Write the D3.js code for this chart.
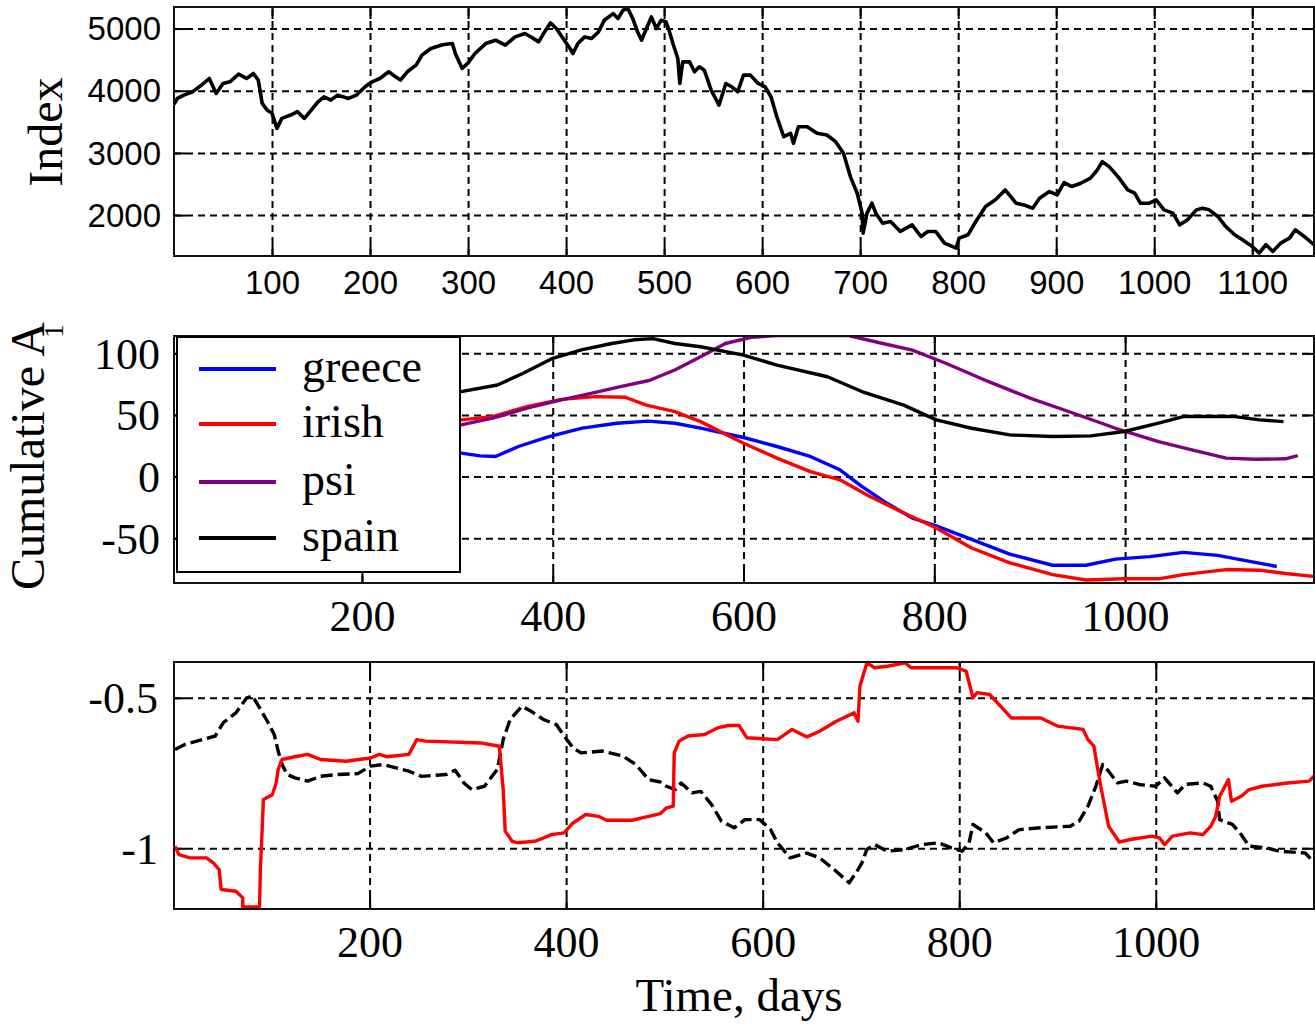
<!DOCTYPE html>
<html><head><meta charset="utf-8">
<script src="https://cdn.jsdelivr.net/npm/d3@7/dist/d3.min.js"></script>
<style>body{margin:0;background:#fff}</style>
</head><body>
<svg id="c" width="1315" height="1024"></svg>
<script>
// ---------- Top panel: index ----------
const indexDays = [0,3.5,10,19,28,36,43,50,57,66,74,81,86,90,95,100,105,110,119,126,133,140,147,153,160,167,178,186,195,202,210,219,226,231,238,247,253,262,274,284,287,294,301,307,318,328,338,348,358,365,372,377,384,390,397,404,407,412,419,426,433,439,448,453,458,463,468,473,477,482,487,492,497,502,505,509,514,516,519,526,531,536,541,548,556,563,569,575,581,588,596,603,609,615,622,629,632,637,646,656,666,675,683,690,697,702,703,707,712,716,723,731,741,753,762,769,777,786,798,801,810,818,828,838,848,859,867,876,883,893,901,908,916,925,935,942,947,954,963,973,980,986,995,1002,1010,1019,1026,1034,1043,1049,1056,1065,1073,1082,1090,1100,1107,1114,1121,1129,1138,1144,1153,1163];
const indexValues = [3780,3876,3930,3984,4090,4197,3957,4118,4144,4267,4197,4278,4171,3796,3689,3636,3395,3556,3609,3663,3556,3689,3823,3903,3850,3930,3876,3930,4064,4144,4197,4305,4224,4171,4305,4412,4572,4679,4740,4759,4599,4358,4465,4599,4759,4813,4733,4866,4920,4856,4786,4920,5091,5000,4840,4679,4599,4759,4866,4840,4946,5134,5241,5161,5294,5321,5161,4946,4813,5000,5187,5000,5134,5107,4973,4759,4519,4117,4465,4465,4305,4385,4331,4010,3770,4117,4064,3984,4251,4251,4117,4064,3903,3582,3261,3315,3154,3422,3422,3315,3288,3181,2994,2619,2352,2031,1710,2031,2191,2031,1870,1897,1737,1843,1656,1737,1737,1549,1469,1630,1683,1897,2138,2245,2405,2191,2164,2111,2271,2378,2325,2523,2459,2512,2593,2726,2860,2780,2619,2405,2352,2191,2191,2245,2084,2031,1843,1924,2084,2111,2084,1977,1816,1683,1603,1496,1389,1523,1416,1549,1630,1763,1656,1523];
const topXTicks = [100,200,300,400,500,600,700,800,900,1000,1100];
const topYTicks = [2000,3000,4000,5000];

// ---------- Middle panel: cumulative A1 ----------
const seriesNames = ["greece","irish","psi","spain"];
const greeceDays = [250,304,324,340,364,396,431,467,500,528,555,600,635,670,701,724,750,777,802,839,879,924,959,990,1026,1061,1097,1132,1159];
const greeceVals = [20,19,16.8,16.3,24.4,32.5,39.3,43.3,45,43.3,39.3,31.7,24.4,16.3,5.5,-8,-21.5,-33.7,-40,-51,-63,-72,-72,-67,-65,-61.5,-64,-69,-73];
const irishDays = [250,304,337,373,409,445,476,498,528,555,600,635,670,701,732,768,802,839,879,924,959,999,1035,1061,1106,1141,1168,1197];
const irishVals = [44,46,48.7,56.8,62.7,64.9,64.4,58,52.7,44.6,27,15,4,-2.6,-16,-29.6,-41.8,-58,-70,-79.6,-84,-83,-83,-79.6,-75.5,-76,-78.7,-81];
const psiDays = [250,304,337,373,409,440,471,501,528,555,581,608,635,710,746,777,812,857,901,946,990,1035,1070,1106,1137,1168,1181];
const psiVals = [38,42,47.4,55.5,62.2,67.6,73,78,86.5,97.3,108,113,114.5,114.5,108,102.7,92,77,63.5,51.4,39.2,28.4,21.7,15,14,14.4,17];
const spainDays = [250,304,342,369,400,431,462,485,505,528,555,600,635,688,724,768,802,839,879,924,964,999,1035,1061,1115,1141,1166];
const spainVals = [62,69,74.3,83.8,96,103,108,111,112,108,105.4,98.6,90.5,81,69,58,46,39.2,33.8,32.5,33,36.6,43.3,48.7,48.7,46,44.6];
const midXTicks = [200,400,600,800,1000];
const midYTicks = [-50,0,50,100];

// ---------- Bottom panel ----------
const redDays = [2,6,17,34,41,47,49,64,71,71,88,89,92,101,105,107,111,124,137,150,176,201,210,218,240,248,257,313,332,336,338,345,351,368,377,385,398,407,420,433,441,467,484,496,502,509,510,515,524,541,554,565,576,584,615,630,645,658,675,693,697,699,706,714,727,745,751,797,807,814,818,831,853,883,900,926,931,937,944,952,963,974,996,1004,1009,1017,1035,1048,1056,1061,1065,1074,1077,1087,1095,1108,1134,1156,1161];
const redVals = [-0.993,-1.021,-1.032,-1.032,-1.049,-1.071,-1.137,-1.143,-1.165,-1.195,-1.195,-1.065,-0.838,-0.822,-0.783,-0.738,-0.705,-0.696,-0.688,-0.705,-0.711,-0.7,-0.688,-0.696,-0.688,-0.639,-0.644,-0.65,-0.661,-0.805,-0.943,-0.977,-0.982,-0.977,-0.966,-0.955,-0.949,-0.916,-0.888,-0.894,-0.907,-0.907,-0.894,-0.885,-0.866,-0.86,-0.683,-0.644,-0.627,-0.622,-0.6,-0.592,-0.592,-0.633,-0.639,-0.605,-0.63,-0.611,-0.578,-0.55,-0.578,-0.461,-0.384,-0.4,-0.395,-0.384,-0.4,-0.4,-0.411,-0.5,-0.483,-0.489,-0.567,-0.567,-0.594,-0.605,-0.639,-0.661,-0.794,-0.927,-0.98,-0.971,-0.96,-0.966,-0.988,-0.96,-0.949,-0.955,-0.927,-0.894,-0.827,-0.772,-0.844,-0.827,-0.805,-0.794,-0.783,-0.777,-0.761];
const blackDays = [2,12,30,43,51,64,75,81,88,96,103,107,111,116,124,137,150,167,188,201,214,227,240,253,278,287,296,304,317,330,336,343,355,364,377,390,398,407,415,437,458,471,484,496,502,511,517,528,537,548,558,571,582,597,608,615,628,645,658,675,688,697,701,706,714,727,745,762,779,792,803,810,814,827,835,848,861,883,913,922,931,939,946,952,961,970,983,1000,1009,1022,1030,1048,1056,1063,1065,1078,1087,1095,1113,1126,1139,1152,1160];
const blackVals = [-0.672,-0.655,-0.639,-0.627,-0.583,-0.55,-0.5,-0.494,-0.533,-0.578,-0.622,-0.677,-0.722,-0.755,-0.766,-0.777,-0.761,-0.755,-0.752,-0.727,-0.722,-0.733,-0.744,-0.761,-0.755,-0.741,-0.783,-0.805,-0.794,-0.738,-0.639,-0.572,-0.528,-0.544,-0.572,-0.589,-0.627,-0.666,-0.683,-0.677,-0.694,-0.722,-0.772,-0.78,-0.794,-0.805,-0.783,-0.816,-0.811,-0.855,-0.91,-0.932,-0.905,-0.905,-0.938,-0.982,-1.032,-1.016,-1.032,-1.077,-1.115,-1.071,-1.049,-1.004,-0.988,-1.01,-1.004,-0.988,-0.982,-0.999,-1.01,-0.982,-0.921,-0.949,-0.982,-0.966,-0.938,-0.932,-0.927,-0.91,-0.86,-0.794,-0.722,-0.744,-0.783,-0.777,-0.788,-0.794,-0.766,-0.816,-0.788,-0.783,-0.794,-0.844,-0.905,-0.921,-0.955,-0.993,-0.999,-1.01,-1.013,-1.016,-1.043];
const botXTicks = [200,400,600,800,1000];
const botYTicks = [-1,-0.5];

const SERIF = "'Liberation Serif','Times New Roman',serif";
const SANS = "'Liberation Sans',Arial,sans-serif";
const svg = d3.select('#c');
const defs = svg.append('defs');

function panel(o) {
  const x = d3.scaleLinear().domain(o.xd).range([o.x0, o.x1]);
  const y = d3.scaleLinear().domain(o.yd).range([o.y1, o.y0]);
  const g = svg.append('g');
  const W = o.x1 - o.x0, H = o.y1 - o.y0;
  const dash = '7,5';
  // grid
  const gx = g.append('g').attr('transform', `translate(0,${o.y1})`)
    .call(d3.axisBottom(x).tickValues(o.xt).tickSize(-H).tickFormat(''));
  const gy = g.append('g').attr('transform', `translate(${o.x0},0)`)
    .call(d3.axisLeft(y).tickValues(o.yt).tickSize(-W).tickFormat(''));
  [gx, gy].forEach(a => {
    a.select('.domain').remove();
    a.selectAll('line').attr('stroke', '#000').attr('stroke-width', 2).attr('stroke-dasharray', dash);
  });
  // inward solid tick marks on all four sides
  const tk = 12;
  const tb = g.append('g').attr('transform', `translate(0,${o.y1})`).call(d3.axisBottom(x).tickValues(o.xt).tickSize(-tk).tickFormat(''));
  const tt = g.append('g').attr('transform', `translate(0,${o.y0})`).call(d3.axisTop(x).tickValues(o.xt).tickSize(-tk).tickFormat(''));
  const tl = g.append('g').attr('transform', `translate(${o.x0},0)`).call(d3.axisLeft(y).tickValues(o.yt).tickSize(-tk).tickFormat(''));
  const tr = g.append('g').attr('transform', `translate(${o.x1},0)`).call(d3.axisRight(y).tickValues(o.yt).tickSize(-tk).tickFormat(''));
  [tb, tt, tl, tr].forEach(a => {
    a.select('.domain').remove();
    a.selectAll('line').attr('stroke', '#000').attr('stroke-width', 2);
  });
  // data
  const cid = 'clip' + o.id;
  defs.append('clipPath').attr('id', cid).append('rect')
    .attr('x', o.x0).attr('y', o.y0).attr('width', W).attr('height', H);
  const lg = g.append('g').attr('clip-path', `url(#${cid})`);
  o.series.forEach(s => {
    const pts = s.days.map((d, i) => [d, s.vals[i]]);
    lg.append('path').datum(pts)
      .attr('fill', 'none').attr('stroke', s.color).attr('stroke-width', s.w || 3.4)
      .attr('stroke-linejoin', 'round')
      .attr('stroke-dasharray', s.dash || null)
      .attr('d', d3.line().x(p => x(p[0])).y(p => y(p[1])));
  });
  // frame
  g.append('rect').attr('x', o.x0).attr('y', o.y0).attr('width', W).attr('height', H)
    .attr('fill', 'none').attr('stroke', '#111').attr('stroke-width', 2);
  // labels
  const lx = g.append('g').attr('transform', `translate(0,${o.y1})`)
    .call(d3.axisBottom(x).tickValues(o.xt).tickSize(0).tickPadding(o.xpad).tickFormat(o.xfmt || d3.format('d')));
  const ly = g.append('g').attr('transform', `translate(${o.x0},0)`)
    .call(d3.axisLeft(y).tickValues(o.yt).tickSize(0).tickPadding(o.ypad).tickFormat(o.yfmt || (d => String(d))));
  [lx, ly].forEach(a => {
    a.select('.domain').remove();
    a.attr('font-family', o.font).attr('font-size', o.fs);
    a.selectAll('text').attr('fill', '#000');
  });
  ly.selectAll('text').attr('dy', '0.34em');
  return {g, x, y};
}

// Top
panel({id: 't', x0: 174, x1: 1314, y0: 7, y1: 256, xd: [0, 1163], yd: [1342, 5347],
  xt: topXTicks, yt: topYTicks, font: SANS, fs: 33, xpad: 15, ypad: 13,
  series: [{days: indexDays, vals: indexValues, color: '#000', w: 3.6}]});

// Middle
panel({id: 'm', x0: 174, x1: 1314, y0: 336, y1: 583, xd: [3, 1198], yd: [-86.4, 114.1],
  xt: midXTicks, yt: midYTicks, font: SERIF, fs: 44, xpad: 17, ypad: 14,
  series: [
    {days: greeceDays, vals: greeceVals, color: '#0000ff'},
    {days: irishDays, vals: irishVals, color: '#ff0000'},
    {days: psiDays, vals: psiVals, color: '#800080'},
    {days: spainDays, vals: spainVals, color: '#000000'}
  ]});

// Legend
const legColors = ['#0000ff', '#ff0000', '#800080', '#000000'];
const legY = [369, 424, 482, 538];
const leg = svg.append('g');
leg.append('rect').attr('x', 177).attr('y', 337).attr('width', 283).attr('height', 235)
  .attr('fill', '#fff').attr('stroke', '#000').attr('stroke-width', 2);
seriesNames.forEach((n, i) => {
  leg.append('line').attr('x1', 199).attr('x2', 276).attr('y1', legY[i]).attr('y2', legY[i])
    .attr('stroke', legColors[i]).attr('stroke-width', 4);
  leg.append('text').attr('x', 302).attr('y', legY[i] + 13).text(n)
    .attr('font-family', SERIF).attr('font-size', 46).attr('fill', '#000');
});

// Bottom
panel({id: 'b', x0: 174, x1: 1314, y0: 662, y1: 909, xd: [1, 1161], yd: [-1.202, -0.381],
  xt: botXTicks, yt: botYTicks, font: SERIF, fs: 44, xpad: 17, ypad: 16,
  yfmt: d => (d === -1 ? '-1' : '-0.5'),
  series: [
    {days: blackDays, vals: blackVals, color: '#000', dash: '12,5'},
    {days: redDays, vals: redVals, color: '#ff0000'}
  ]});

// Axis titles
svg.append('text').attr('transform', 'translate(62,132) rotate(-90)').attr('text-anchor', 'middle')
  .attr('font-family', SERIF).attr('font-size', 48).text('Index');
const cum = svg.append('text').attr('transform', 'translate(44,590) rotate(-90)').attr('text-anchor', 'start')
  .attr('font-family', SERIF).attr('font-size', 48);
cum.append('tspan').text('Cumulative A');
cum.append('tspan').attr('dy', 19).attr('dx', -16).attr('font-size', 28).text('1');
svg.append('text').attr('x', 739).attr('y', 1011).attr('text-anchor', 'middle')
  .attr('font-family', SERIF).attr('font-size', 47).text('Time, days');
</script>
</body></html>
